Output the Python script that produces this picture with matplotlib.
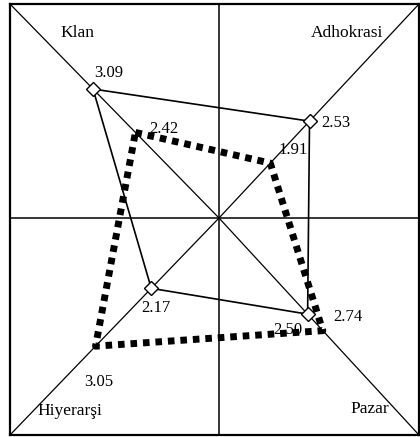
import matplotlib
matplotlib.use("Agg")
import matplotlib.pyplot as plt

categories = ["Klan", "Adhokrasi", "Pazar", "Hiyerarşi"]
series_solid = [3.09, 2.53, 2.50, 2.17]
series_dotted = [2.42, 1.91, 2.74, 3.05]

plt.rcParams['font.family'] = ['Liberation Serif', 'DejaVu Serif']

W, H = 420, 437
fig = plt.figure(figsize=(W / 100, H / 100), dpi=100)
ax = fig.add_axes([10 / W, 2 / H, 409 / W, 431 / H])

PX = 63.3      # pixels per value unit
V0 = 1.10      # value at centre
xmin, xmax = -209 / PX, 200 / PX
ymin, ymax = -217 / PX, 214 / PX
ax.set_xlim(xmin, xmax)
ax.set_ylim(ymin, ymax)
ax.set_xticks([]); ax.set_yticks([])
for s in ax.spines.values():
    s.set_linewidth(1.6)

corners = {"Klan": (xmin, ymax), "Adhokrasi": (xmax, ymax),
           "Pazar": (xmax, ymin), "Hiyerarşi": (xmin, ymin)}

# cross and diagonals
ax.plot([0, 0], [ymin, ymax], color='black', lw=1.1, zorder=1)
ax.plot([xmin, xmax], [0, 0], color='black', lw=1.1, zorder=1)
for c in categories:
    cx, cy = corners[c]
    ax.plot([0, cx], [0, cy], color='black', lw=0.9, zorder=1)

def pos(v, c):
    cx, cy = corners[c]
    t = (v - V0) / abs(cx)
    return t * cx, t * cy

p1 = [pos(v, c) for v, c in zip(series_solid, categories)]
p2 = [pos(v, c) for v, c in zip(series_dotted, categories)]

x1 = [p[0] for p in p1] + [p1[0][0]]
y1 = [p[1] for p in p1] + [p1[0][1]]
x2 = [p[0] for p in p2] + [p2[0][0]]
y2 = [p[1] for p in p2] + [p2[0][1]]

ax.plot(x1, y1, color='black', lw=1.2, zorder=2)
ln, = ax.plot(x2, y2, color='black', lw=5.0, zorder=3, solid_capstyle='butt')
ln.set_dashes((0.95, 0.85))
ln.set_dash_capstyle('butt')
ax.plot([p[0] for p in p1], [p[1] for p in p1], linestyle='none', marker='D',
        markersize=7, markerfacecolor='white', markeredgecolor='black',
        markeredgewidth=1.0, zorder=4)

offs_solid = [(16, 16), (26, -2), (-20, -16), (5, -20)]
offs_dotted = [(28, 3), (23, 13), (25, 14), (3, -36)]
for (x, y), v, o in zip(p1, series_solid, offs_solid):
    ax.annotate(f"{v:.2f}", (x, y), xytext=o, textcoords='offset pixels',
                ha='center', va='center', fontsize=12, zorder=5)
for (x, y), v, o in zip(p2, series_dotted, offs_dotted):
    ax.annotate(f"{v:.2f}", (x, y), xytext=o, textcoords='offset pixels',
                ha='center', va='center', fontsize=12, zorder=5)

label_px = {"Klan": (77, 33), "Adhokrasi": (347, 33),
            "Pazar": (370, 409), "Hiyerarşi": (70, 411)}
for c in categories:
    px, py = label_px[c]
    fig.text(px / W, 1 - py / H, c, ha='center', va='center', fontsize=12.5)

fig.savefig("out.png", dpi=100)
